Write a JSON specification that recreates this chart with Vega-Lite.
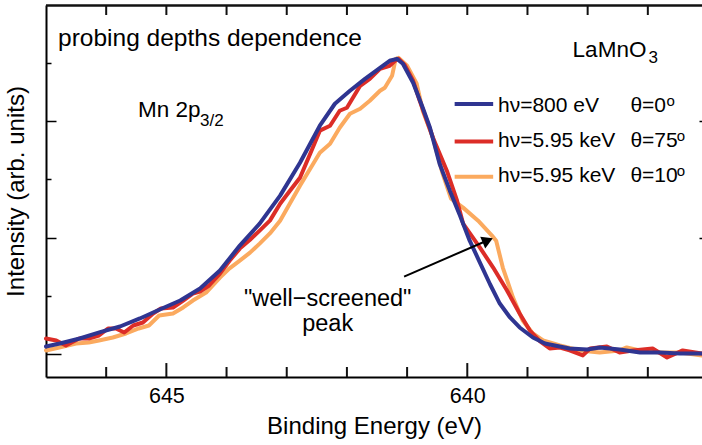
{
  "$schema": "https://vega.github.io/schema/vega-lite/v6.json",
  "width": 656,
  "height": 372,
  "autosize": {"type": "none"},
  "padding": {"left": 46, "top": 5, "right": 0, "bottom": 68},
  "background": "white",
  "config": {
    "view": {"stroke": null},
    "font": "Liberation Sans",
    "axis": {"grid": false, "domainColor": "black", "domainWidth": 2, "tickColor": "black", "tickWidth": 1.5, "labelColor": "black", "titleColor": "black", "titleFontWeight": "normal", "labelFont": "Liberation Sans", "titleFont": "Liberation Sans"}
  },
  "datasets": {
    "spectra": [
      {"series": "s10", "E": 647.00, "I": 0.057}, {"series": "s10", "E": 646.78, "I": 0.108}, {"series": "s10", "E": 646.50, "I": 0.177}, {"series": "s10", "E": 646.29, "I": 0.194}, {"series": "s10", "E": 646.12, "I": 0.229}, {"series": "s10", "E": 645.89, "I": 0.280}, {"series": "s10", "E": 645.67, "I": 0.349}, {"series": "s10", "E": 645.46, "I": 0.435}, {"series": "s10", "E": 645.29, "I": 0.486}, {"series": "s10", "E": 645.12, "I": 0.658}, {"series": "s10", "E": 644.89, "I": 0.692}, {"series": "s10", "E": 644.72, "I": 0.796}, {"series": "s10", "E": 644.56, "I": 0.916}, {"series": "s10", "E": 644.34, "I": 1.053}, {"series": "s10", "E": 644.11, "I": 1.311}, {"series": "s10", "E": 643.95, "I": 1.470}, {"series": "s10", "E": 643.78, "I": 1.603}, {"series": "s10", "E": 643.61, "I": 1.740}, {"series": "s10", "E": 643.45, "I": 1.895}, {"series": "s10", "E": 643.28, "I": 2.070}, {"series": "s10", "E": 643.11, "I": 2.290}, {"series": "s10", "E": 642.95, "I": 2.580}, {"series": "s10", "E": 642.78, "I": 2.892}, {"series": "s10", "E": 642.56, "I": 3.270}, {"series": "s10", "E": 642.45, "I": 3.459}, {"series": "s10", "E": 642.28, "I": 3.613}, {"series": "s10", "E": 642.12, "I": 3.888}, {"series": "s10", "E": 641.95, "I": 4.129}, {"series": "s10", "E": 641.78, "I": 4.215}, {"series": "s10", "E": 641.62, "I": 4.352}, {"series": "s10", "E": 641.45, "I": 4.524}, {"series": "s10", "E": 641.37, "I": 4.576}, {"series": "s10", "E": 641.25, "I": 4.782}, {"series": "s10", "E": 641.19, "I": 5.074}, {"series": "s10", "E": 641.14, "I": 5.091}, {"series": "s10", "E": 641.00, "I": 4.954}, {"series": "s10", "E": 640.84, "I": 4.644}, {"series": "s10", "E": 640.74, "I": 4.180}, {"series": "s10", "E": 640.57, "I": 3.716}, {"series": "s10", "E": 640.41, "I": 3.098}, {"series": "s10", "E": 640.27, "I": 2.668}, {"series": "s10", "E": 640.07, "I": 2.514}, {"series": "s10", "E": 639.82, "I": 2.290}, {"series": "s10", "E": 639.59, "I": 2.032}, {"series": "s10", "E": 639.52, "I": 1.945}, {"series": "s10", "E": 639.41, "I": 1.483}, {"series": "s10", "E": 639.24, "I": 0.967}, {"series": "s10", "E": 639.08, "I": 0.572}, {"series": "s10", "E": 638.91, "I": 0.349}, {"series": "s10", "E": 638.74, "I": 0.229}, {"series": "s10", "E": 638.46, "I": 0.143}, {"series": "s10", "E": 638.13, "I": 0.057}, {"series": "s10", "E": 637.80, "I": 0.022}, {"series": "s10", "E": 637.47, "I": 0.057}, {"series": "s10", "E": 637.35, "I": 0.108}, {"series": "s10", "E": 637.13, "I": 0.057}, {"series": "s10", "E": 636.80, "I": 0.022}, {"series": "s10", "E": 636.47, "I": 0.022}, {"series": "s10", "E": 636.10, "I": -0.029},
      {"series": "s75", "E": 647.00, "I": 0.263}, {"series": "s75", "E": 646.83, "I": 0.229}, {"series": "s75", "E": 646.67, "I": 0.143}, {"series": "s75", "E": 646.45, "I": 0.263}, {"series": "s75", "E": 646.29, "I": 0.263}, {"series": "s75", "E": 646.12, "I": 0.314}, {"series": "s75", "E": 645.97, "I": 0.435}, {"series": "s75", "E": 645.84, "I": 0.435}, {"series": "s75", "E": 645.70, "I": 0.366}, {"series": "s75", "E": 645.55, "I": 0.486}, {"series": "s75", "E": 645.39, "I": 0.538}, {"series": "s75", "E": 645.22, "I": 0.692}, {"series": "s75", "E": 645.09, "I": 0.778}, {"series": "s75", "E": 644.89, "I": 0.796}, {"series": "s75", "E": 644.72, "I": 0.916}, {"series": "s75", "E": 644.56, "I": 1.036}, {"series": "s75", "E": 644.44, "I": 1.070}, {"series": "s75", "E": 644.29, "I": 1.174}, {"series": "s75", "E": 644.11, "I": 1.380}, {"series": "s75", "E": 643.95, "I": 1.600}, {"series": "s75", "E": 643.78, "I": 1.809}, {"series": "s75", "E": 643.61, "I": 1.960}, {"series": "s75", "E": 643.45, "I": 2.119}, {"series": "s75", "E": 643.28, "I": 2.290}, {"series": "s75", "E": 643.11, "I": 2.582}, {"series": "s75", "E": 642.95, "I": 2.800}, {"series": "s75", "E": 642.78, "I": 3.029}, {"series": "s75", "E": 642.61, "I": 3.441}, {"series": "s75", "E": 642.45, "I": 3.838}, {"series": "s75", "E": 642.28, "I": 3.923}, {"series": "s75", "E": 642.12, "I": 4.181}, {"series": "s75", "E": 642.00, "I": 4.232}, {"series": "s75", "E": 641.90, "I": 4.404}, {"series": "s75", "E": 641.78, "I": 4.610}, {"series": "s75", "E": 641.62, "I": 4.730}, {"series": "s75", "E": 641.45, "I": 4.902}, {"series": "s75", "E": 641.29, "I": 4.954}, {"series": "s75", "E": 641.20, "I": 5.040}, {"series": "s75", "E": 641.14, "I": 5.074}, {"series": "s75", "E": 641.04, "I": 4.971}, {"series": "s75", "E": 640.90, "I": 4.696}, {"series": "s75", "E": 640.79, "I": 4.352}, {"series": "s75", "E": 640.57, "I": 3.716}, {"series": "s75", "E": 640.34, "I": 3.149}, {"series": "s75", "E": 640.17, "I": 2.634}, {"series": "s75", "E": 640.07, "I": 2.239}, {"series": "s75", "E": 639.79, "I": 1.826}, {"series": "s75", "E": 639.57, "I": 1.483}, {"series": "s75", "E": 639.34, "I": 1.088}, {"series": "s75", "E": 639.13, "I": 0.692}, {"series": "s75", "E": 638.96, "I": 0.400}, {"series": "s75", "E": 638.79, "I": 0.211}, {"series": "s75", "E": 638.63, "I": 0.091}, {"series": "s75", "E": 638.46, "I": 0.108}, {"series": "s75", "E": 638.30, "I": 0.057}, {"series": "s75", "E": 638.08, "I": -0.029}, {"series": "s75", "E": 637.96, "I": 0.091}, {"series": "s75", "E": 637.68, "I": 0.125}, {"series": "s75", "E": 637.47, "I": 0.022}, {"series": "s75", "E": 637.25, "I": 0.057}, {"series": "s75", "E": 636.92, "I": 0.091}, {"series": "s75", "E": 636.68, "I": -0.064}, {"series": "s75", "E": 636.42, "I": 0.057}, {"series": "s75", "E": 636.10, "I": 0.005},
      {"series": "s800", "E": 647.00, "I": 0.125}, {"series": "s800", "E": 646.77, "I": 0.177}, {"series": "s800", "E": 646.44, "I": 0.263}, {"series": "s800", "E": 646.10, "I": 0.371}, {"series": "s800", "E": 645.77, "I": 0.469}, {"series": "s800", "E": 645.44, "I": 0.607}, {"series": "s800", "E": 645.11, "I": 0.761}, {"series": "s800", "E": 644.77, "I": 0.916}, {"series": "s800", "E": 644.44, "I": 1.122}, {"series": "s800", "E": 644.11, "I": 1.431}, {"series": "s800", "E": 643.78, "I": 1.861}, {"series": "s800", "E": 643.45, "I": 2.239}, {"series": "s800", "E": 643.11, "I": 2.720}, {"series": "s800", "E": 642.78, "I": 3.287}, {"series": "s800", "E": 642.45, "I": 3.923}, {"series": "s800", "E": 642.20, "I": 4.301}, {"series": "s800", "E": 641.95, "I": 4.524}, {"series": "s800", "E": 641.70, "I": 4.730}, {"series": "s800", "E": 641.45, "I": 4.919}, {"series": "s800", "E": 641.29, "I": 5.040}, {"series": "s800", "E": 641.17, "I": 5.074}, {"series": "s800", "E": 641.07, "I": 4.988}, {"series": "s800", "E": 640.90, "I": 4.662}, {"series": "s800", "E": 640.74, "I": 4.232}, {"series": "s800", "E": 640.62, "I": 3.888}, {"series": "s800", "E": 640.46, "I": 3.270}, {"series": "s800", "E": 640.29, "I": 2.806}, {"series": "s800", "E": 640.12, "I": 2.376}, {"series": "s800", "E": 639.96, "I": 1.945}, {"series": "s800", "E": 639.79, "I": 1.569}, {"series": "s800", "E": 639.62, "I": 1.191}, {"series": "s800", "E": 639.46, "I": 0.864}, {"series": "s800", "E": 639.29, "I": 0.624}, {"series": "s800", "E": 639.13, "I": 0.452}, {"series": "s800", "E": 638.91, "I": 0.280}, {"series": "s800", "E": 638.71, "I": 0.177}, {"series": "s800", "E": 638.30, "I": 0.091}, {"series": "s800", "E": 638.01, "I": 0.074}, {"series": "s800", "E": 637.80, "I": 0.108}, {"series": "s800", "E": 637.47, "I": 0.074}, {"series": "s800", "E": 637.13, "I": 0.022}, {"series": "s800", "E": 636.80, "I": 0.022}, {"series": "s800", "E": 636.47, "I": 0.005}, {"series": "s800", "E": 636.10, "I": 0.005}
    ],
    "legendLines": [
      {"series": "s800", "x1": 640.21, "x2": 639.57, "y": 4.297},
      {"series": "s75", "x1": 640.21, "x2": 639.57, "y": 3.653},
      {"series": "s10", "x1": 640.21, "x2": 639.57, "y": 3.046}
    ],
    "arrow": [{"x1": 641.05, "y1": 1.328, "x2": 639.62, "y2": 1.97}],
    "arrowHead": [{"x": 639.66, "y": 1.95}],
    "majorTicks": [{"E": 640, "lo": -0.4, "hi": -0.16}, {"E": 645, "lo": -0.4, "hi": -0.16}],
    "minorTicks": [{"E": 637, "lo": -0.4, "hi": -0.228}, {"E": 638, "lo": -0.4, "hi": -0.228}, {"E": 639, "lo": -0.4, "hi": -0.228}, {"E": 641, "lo": -0.4, "hi": -0.228}, {"E": 642, "lo": -0.4, "hi": -0.228}, {"E": 643, "lo": -0.4, "hi": -0.228}, {"E": 644, "lo": -0.4, "hi": -0.228}, {"E": 646, "lo": -0.4, "hi": -0.228}],
    "topTicks": [{"E": 637, "lo": 5.828, "hi": 6}, {"E": 638, "lo": 5.828, "hi": 6}, {"E": 639, "lo": 5.828, "hi": 6}, {"E": 640, "lo": 5.828, "hi": 6}, {"E": 641, "lo": 5.828, "hi": 6}, {"E": 642, "lo": 5.828, "hi": 6}, {"E": 643, "lo": 5.828, "hi": 6}, {"E": 644, "lo": 5.828, "hi": 6}, {"E": 645, "lo": 5.828, "hi": 6}, {"E": 646, "lo": 5.828, "hi": 6}],
    "frameTop": [{"a": 636.1, "b": 647, "y": 5.99}],
    "bigLeft": [
      {"x": 646.80, "y": 5.297, "t": "probing depths dependence"}
    ],
    "midText": [
      {"x": 645.47, "y": 4.065, "t": "Mn 2p"},
      {"x": 638.25, "y": 5.108, "t": "LaMnO"}
    ],
    "bigCenter": [
      {"x": 642.32, "y": 0.83, "t": "\"well−screened\""},
      {"x": 642.32, "y": 0.40, "t": "peak"}
    ],
    "legendText": [
      {"x": 639.49, "y": 4.163, "t": "hν=800 eV"},
      {"x": 639.49, "y": 3.55, "t": "hν=5.95 keV"},
      {"x": 639.49, "y": 2.948, "t": "hν=5.95 keV"},
      {"x": 637.29, "y": 4.163, "t": "θ=0"},
      {"x": 637.29, "y": 3.55, "t": "θ=75"},
      {"x": 637.29, "y": 2.948, "t": "θ=10"}
    ],
    "subs": [
      {"x": 644.44, "y": 3.923, "t": "3/2"},
      {"x": 636.99, "y": 5.005, "t": "3"}
    ],
    "sups": [
      {"x": 636.69, "y": 4.266, "t": "o"},
      {"x": 636.52, "y": 3.665, "t": "o"},
      {"x": 636.52, "y": 3.064, "t": "o"}
    ]
  },
  "resolve": {"axis": {"y": "independent"}},
  "layer": [
    {
      "data": {"name": "frameTop"},
      "mark": {"type": "rule", "strokeWidth": 2.5, "color": "#111111"},
      "encoding": {
        "x": {"field": "a", "type": "quantitative", "scale": {"domain": [636.1, 647], "reverse": true, "zero": false, "nice": false},
          "axis": {"orient": "bottom", "values": [640, 645], "format": "d", "ticks": false, "domain": true, "labelPadding": 8, "labelFontSize": 21.5, "title": "Binding Energy (eV)", "titleFontSize": 24, "titlePadding": 8}},
        "x2": {"field": "b"},
        "y": {"field": "y", "type": "quantitative", "scale": {"domain": [-0.4, 6], "zero": false, "nice": false},
          "axis": {"orient": "left", "values": [0], "labels": false, "ticks": true, "domain": true, "tickColor": "black", "tickSize": -15, "title": "Intensity (arb. units)", "titleFontSize": 24, "titlePadding": 17}}
      }
    },
    {
      "data": {"name": "majorTicks"},
      "mark": {"type": "rule", "strokeWidth": 2, "color": "#111111"},
      "encoding": {
        "x": {"field": "E", "type": "quantitative"},
        "y": {"field": "lo", "type": "quantitative", "axis": null},
        "y2": {"field": "hi"}
      }
    },
    {
      "data": {"name": "minorTicks"},
      "mark": {"type": "rule", "strokeWidth": 2, "color": "#111111"},
      "encoding": {
        "x": {"field": "E", "type": "quantitative"},
        "y": {"field": "lo", "type": "quantitative", "axis": null},
        "y2": {"field": "hi"}
      }
    },
    {
      "data": {"name": "topTicks"},
      "mark": {"type": "rule", "strokeWidth": 2, "color": "#111111"},
      "encoding": {
        "x": {"field": "E", "type": "quantitative"},
        "y": {"field": "lo", "type": "quantitative", "axis": null},
        "y2": {"field": "hi"}
      }
    },
    {
      "data": {"name": "spectra"},
      "mark": {"type": "line", "strokeWidth": 4, "strokeJoin": "round", "strokeCap": "round"},
      "encoding": {
        "x": {"field": "E", "type": "quantitative"},
        "y": {"field": "I", "type": "quantitative", "axis": null},
        "color": {"field": "series", "type": "nominal", "scale": {"domain": ["s800", "s75", "s10"], "range": ["#2F3591", "#DC2D27", "#FBAA5F"]}, "legend": null}
      }
    },
    {
      "data": {"name": "legendLines"},
      "mark": {"type": "rule", "strokeWidth": 4},
      "encoding": {
        "x": {"field": "x1", "type": "quantitative"},
        "x2": {"field": "x2"},
        "y": {"field": "y", "type": "quantitative",
          "axis": {"orient": "right", "values": [2, 4], "labels": false, "ticks": true, "domain": false, "tickColor": "black", "tickSize": -3, "title": null}},
        "color": {"field": "series", "type": "nominal", "scale": {"domain": ["s800", "s75", "s10"], "range": ["#2F3591", "#DC2D27", "#FBAA5F"]}, "legend": null}
      }
    },
    {
      "data": {"name": "arrow"},
      "mark": {"type": "rule", "strokeWidth": 2, "color": "black"},
      "encoding": {
        "x": {"field": "x1", "type": "quantitative"},
        "x2": {"field": "x2"},
        "y": {"field": "y1", "type": "quantitative",
          "axis": {"orient": "left", "values": [2, 4], "labels": false, "ticks": true, "domain": false, "tickColor": "black", "tickSize": -10, "title": null}},
        "y2": {"field": "y2"}
      }
    },
    {
      "data": {"name": "arrowHead"},
      "mark": {"type": "point", "shape": "triangle-right", "filled": true, "color": "black", "size": 160, "angle": 336.6, "opacity": 1},
      "encoding": {
        "x": {"field": "x", "type": "quantitative"},
        "y": {"field": "y", "type": "quantitative",
          "axis": {"orient": "left", "values": [1, 3, 5], "labels": false, "ticks": true, "domain": false, "tickColor": "black", "tickSize": -5, "title": null}}
      }
    },
    {
      "data": {"name": "bigLeft"},
      "mark": {"type": "text", "align": "left", "baseline": "alphabetic", "fontSize": 24.5, "font": "Liberation Sans", "color": "black"},
      "encoding": {
        "x": {"field": "x", "type": "quantitative"},
        "y": {"field": "y", "type": "quantitative", "axis": null},
        "text": {"field": "t"}
      }
    },
    {
      "data": {"name": "midText"},
      "mark": {"type": "text", "align": "left", "baseline": "alphabetic", "fontSize": 22.5, "font": "Liberation Sans", "color": "black"},
      "encoding": {
        "x": {"field": "x", "type": "quantitative"},
        "y": {"field": "y", "type": "quantitative", "axis": null},
        "text": {"field": "t"}
      }
    },
    {
      "data": {"name": "bigCenter"},
      "mark": {"type": "text", "align": "center", "baseline": "alphabetic", "fontSize": 23.5, "font": "Liberation Sans", "color": "black"},
      "encoding": {
        "x": {"field": "x", "type": "quantitative"},
        "y": {"field": "y", "type": "quantitative", "axis": null},
        "text": {"field": "t"}
      }
    },
    {
      "data": {"name": "legendText"},
      "mark": {"type": "text", "align": "left", "baseline": "alphabetic", "fontSize": 21, "font": "Liberation Sans", "color": "black"},
      "encoding": {
        "x": {"field": "x", "type": "quantitative"},
        "y": {"field": "y", "type": "quantitative", "axis": null},
        "text": {"field": "t"}
      }
    },
    {
      "data": {"name": "subs"},
      "mark": {"type": "text", "align": "left", "baseline": "alphabetic", "fontSize": 17, "font": "Liberation Sans", "color": "black"},
      "encoding": {
        "x": {"field": "x", "type": "quantitative"},
        "y": {"field": "y", "type": "quantitative", "axis": null},
        "text": {"field": "t"}
      }
    },
    {
      "data": {"name": "sups"},
      "mark": {"type": "text", "align": "left", "baseline": "alphabetic", "fontSize": 15, "font": "Liberation Sans", "color": "black"},
      "encoding": {
        "x": {"field": "x", "type": "quantitative"},
        "y": {"field": "y", "type": "quantitative", "axis": null},
        "text": {"field": "t"}
      }
    }
  ]
}
